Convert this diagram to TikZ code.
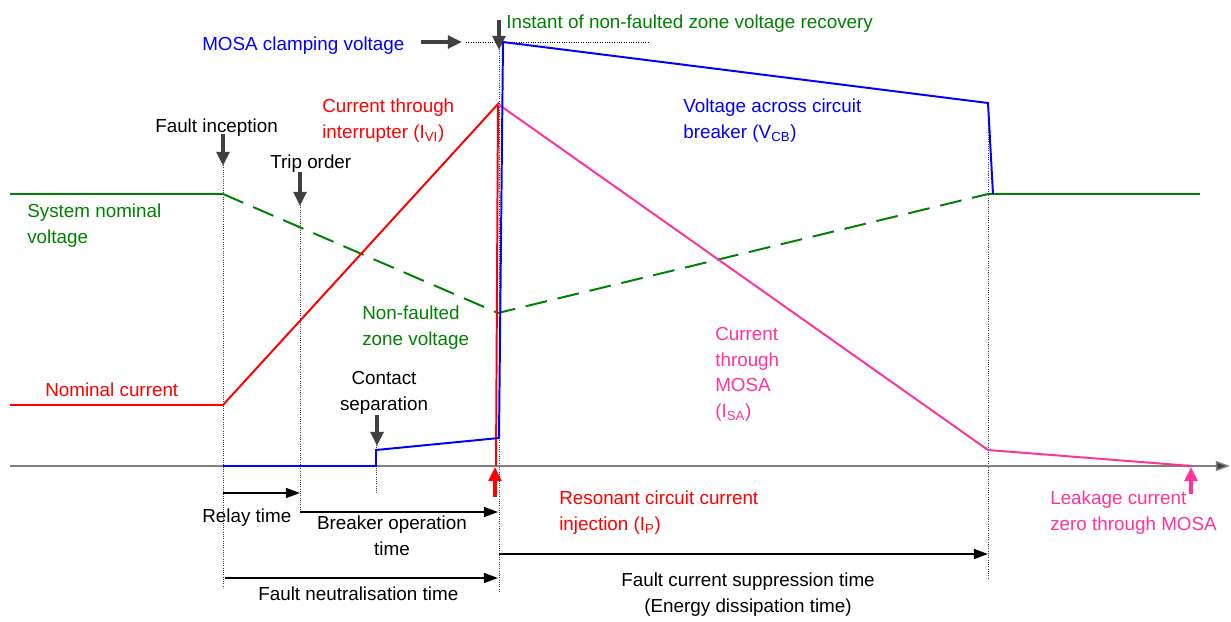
\documentclass[tikz,border=0pt]{standalone}
\usepackage{fontspec}
\setmainfont{Liberation Sans}
\usetikzlibrary{arrows.meta}
\definecolor{volgreen}{RGB}{0,128,0}
\definecolor{sapink}{RGB}{255,51,153}
\definecolor{ptrgray}{RGB}{64,64,64}
\tikzset{
  lbl/.style={inner sep=0pt, anchor=base west, align=left,
    font=\fontsize{13.4}{18.1}\selectfont},
  wave/.style={line width=1.4pt, line join=miter},
  marker/.style={densely dotted, ptrgray, line width=0.6pt},
  pointer/.style={ptrgray, line width=2.6pt, -{Triangle[length=10pt,width=9pt]}},
  span/.style={black, line width=1.3pt, -{Triangle[length=10pt,width=7pt]}},
}
\begin{document}
\begin{tikzpicture}[x=0.025cm,y=-0.025cm]
\useasboundingbox (0,0) rectangle (1231,621);
% instants on the time axis
\coordinate (tF) at (223,466);
\coordinate (tT) at (300,466);
\coordinate (tC) at (376,466);
\coordinate (tI) at (498,466);
\coordinate (tE) at (988,466);
% vertical markers
\draw[marker] (223,165) -- (223,588);
\draw[marker] (300,205) -- (300,511);
\draw[marker] (376,445) -- (376,493);
\draw[marker] (499,42) -- (499,593);
\draw[marker] (988,103) -- (988,578);
\draw[densely dotted, black, line width=0.7pt] (466,42) -- (650,42);
% time axis
\draw[gray, line width=1pt, -{Triangle[length=10pt,width=7pt,fill=ptrgray]}] (10,466) -- (1230,466);
% system voltage
\coordinate (v0) at (10,194);
\coordinate (v1) at (223,194);
\coordinate (v2) at (498,313);
\coordinate (v3) at (988,194);
\coordinate (v4) at (1200,194);
\draw[wave, volgreen] (v0) -- (v1);
\draw[wave, volgreen, dash pattern=on 0.55cm off 0.27cm] (v1) -- (v2) -- (v3);
\draw[wave, volgreen] (v3) -- (v4);
% current through interrupter
\coordinate (i0) at (10,405);
\coordinate (i1) at (223,405);
\coordinate (i2) at (498,104);
\coordinate (i3) at (496,466);
\draw[wave, red] (i0) -- (i1) -- (i2) -- (i3);
% current through MOSA
\coordinate (s1) at (988,450);
\coordinate (s2) at (1192,466);
\draw[wave, sapink] (i2) -- (s1) -- (s2);
% voltage across breaker
\coordinate (b1) at (376,450);
\coordinate (b2) at (499,438);
\coordinate (b3) at (503,42);
\coordinate (b4) at (988,103);
\coordinate (b5) at (993,194);
\draw[wave, blue] (tF) -- (tC) -- (b1) -- (b2) -- (b3) -- (b4) -- (b5);
% pointers
\draw[pointer] (223,134) -- (223,166);
\draw[pointer] (300,172) -- (300,206);
\draw[pointer] (377,415) -- (377,446);
\draw[pointer] (421,42) -- (462,42);
\draw[pointer] (499,20) -- (499,50);
\draw[red, line width=2.6pt, -{Triangle[length=10pt,width=9pt]}] (495,497) -- (495,467);
\draw[sapink, line width=2.6pt, -{Triangle[length=10pt,width=9pt]}] (1191,494) -- (1191,467);
% time spans
\draw[span] (223,493) -- (tT |- 0,493);
\draw[span] (300,512) -- (tI |- 0,512);
\draw[span] (225,578) -- (tI |- 0,578);
\draw[span] (499,554) -- (tE |- 0,554);
% labels (base = last line)
\node[lbl, blue] (clamp) at (202,50) {MOSA clamping voltage};
\node[lbl, volgreen] (recov) at (506,28) {Instant of non-faulted zone voltage recovery};
\node[lbl, red] (ivi) at (322,138) {Current through\\interrupter (I\textsubscript{VI})};
\node[lbl, blue] (vcb) at (683,138) {Voltage across circuit\\breaker (V\textsubscript{CB})};
\node[lbl] (incep) at (155,132) {Fault inception};
\node[lbl] (trip) at (270,168) {Trip order};
\node[lbl, volgreen] (sysv) at (27,243) {System nominal\\voltage};
\node[lbl, volgreen] (nfzv) at (362,345) {Non-faulted\\zone voltage};
\node[lbl, red] (inom) at (45,396) {Nominal current};
\node[lbl, align=center, anchor=base] (csep) at (384,410) {Contact\\separation};
\node[lbl, sapink] (isa) at (715,417) {Current\\through\\MOSA\\(I\textsubscript{SA})};
\node[lbl] (relay) at (202,522) {Relay time};
\node[lbl, align=center, anchor=base] (bop) at (392,555) {Breaker operation\\time};
\node[lbl] (fnt) at (258,600) {Fault neutralisation time};
\node[lbl, red] (ip) at (559,530) {Resonant circuit current\\injection (I\textsubscript{P})};
\node[lbl, align=center, anchor=base] (fcs) at (748,612) {Fault current suppression time\\(Energy dissipation time)};
\node[lbl, sapink] (leak) at (1050,530) {Leakage current\\zero through MOSA};
\end{tikzpicture}
\end{document}
